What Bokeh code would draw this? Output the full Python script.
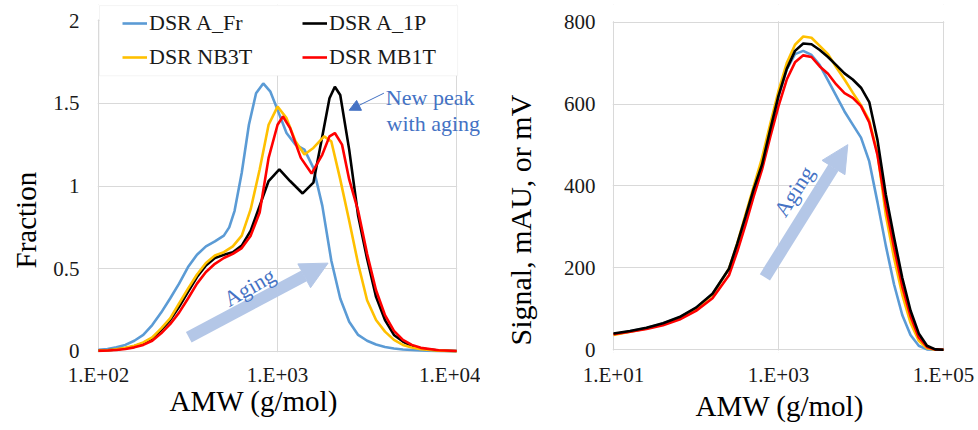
import numpy as np
from bokeh.plotting import figure
from bokeh.models import (Range1d, FixedTicker, Legend, LegendItem, Label, Arrow, NormalHead,
                          Title, BoxAnnotation)
from bokeh.layouts import row
from bokeh.embed import file_html
from bokeh.resources import INLINE

FONT = "Liberation Serif"

# ---------------- Left panel: Fraction vs AMW (log10 AMW values) ----------------
frac_logM_fr = [2.00, 2.05, 2.10, 2.15, 2.20, 2.25, 2.30, 2.35, 2.40, 2.45, 2.50, 2.55, 2.60, 2.65, 2.70,
                2.73, 2.76, 2.80, 2.84, 2.88, 2.92, 2.96, 3.00, 3.05, 3.10, 3.15, 3.20, 3.25, 3.30, 3.35,
                3.40, 3.45, 3.50, 3.55, 3.60, 3.65, 3.70, 3.80, 3.90, 4.00]
frac_fr = [0.010, 0.015, 0.025, 0.040, 0.065, 0.10, 0.16, 0.235, 0.32, 0.41, 0.51, 0.585, 0.635, 0.665, 0.70,
           0.75, 0.85, 1.08, 1.37, 1.56, 1.62, 1.57, 1.46, 1.32, 1.25, 1.22, 1.11, 0.88, 0.55, 0.32,
           0.18, 0.10, 0.065, 0.042, 0.027, 0.018, 0.012, 0.006, 0.002, 0.0]

frac_logM_1p = [2.00, 2.05, 2.10, 2.15, 2.20, 2.25, 2.30, 2.35, 2.40, 2.45, 2.50, 2.55, 2.60, 2.65, 2.70,
                2.75, 2.80, 2.85, 2.90, 2.95, 3.01, 3.07, 3.14, 3.20, 3.25, 3.29, 3.32, 3.35, 3.40, 3.45,
                3.50, 3.55, 3.60, 3.65, 3.70, 3.75, 3.80, 3.90, 4.00]
frac_1p = [0.005, 0.008, 0.012, 0.02, 0.032, 0.05, 0.08, 0.13, 0.19, 0.27, 0.36, 0.45, 0.52, 0.565, 0.585,
           0.60, 0.64, 0.73, 0.88, 1.03, 1.10, 1.03, 0.955, 1.02, 1.30, 1.53, 1.60, 1.55, 1.22, 0.82,
           0.56, 0.33, 0.19, 0.10, 0.06, 0.033, 0.018, 0.006, 0.002]

frac_logM_nb = [2.00, 2.05, 2.10, 2.15, 2.20, 2.25, 2.30, 2.35, 2.40, 2.45, 2.50, 2.55, 2.60, 2.65, 2.70,
                2.75, 2.80, 2.85, 2.90, 2.95, 3.00, 3.05, 3.10, 3.15, 3.20, 3.26, 3.30, 3.35, 3.40, 3.45,
                3.50, 3.55, 3.60, 3.65, 3.70, 3.75, 3.80, 3.90, 4.00]
frac_nb = [0.005, 0.008, 0.013, 0.022, 0.035, 0.055, 0.085, 0.14, 0.20, 0.29, 0.38, 0.465, 0.535, 0.58, 0.60,
           0.635, 0.70, 0.86, 1.10, 1.37, 1.48, 1.41, 1.27, 1.19, 1.23, 1.30, 1.27, 1.04, 0.79, 0.53,
           0.31, 0.19, 0.12, 0.07, 0.04, 0.024, 0.014, 0.005, 0.001]

frac_logM_mb = [2.00, 2.05, 2.10, 2.15, 2.20, 2.25, 2.30, 2.35, 2.40, 2.45, 2.50, 2.55, 2.60, 2.65, 2.70,
                2.75, 2.80, 2.85, 2.90, 2.95, 3.00, 3.03, 3.07, 3.13, 3.19, 3.25, 3.29, 3.32, 3.36, 3.40,
                3.45, 3.50, 3.55, 3.60, 3.65, 3.70, 3.75, 3.80, 3.90, 4.00]
frac_mb = [0.004, 0.006, 0.009, 0.015, 0.025, 0.04, 0.065, 0.11, 0.165, 0.235, 0.32, 0.41, 0.48, 0.53, 0.565,
           0.59, 0.625, 0.70, 0.84, 1.17, 1.37, 1.42, 1.35, 1.17, 1.075, 1.19, 1.30, 1.32, 1.25, 1.04,
           0.85, 0.59, 0.37, 0.22, 0.125, 0.07, 0.04, 0.022, 0.008, 0.003]

left_x_ticks = [100, 1000, 10000]
left_x_labels = ["1.E+02", "1.E+03", "1.E+04"]
left_y_ticks = [0, 0.5, 1, 1.5, 2]
left_y_labels = ["0", "0.5", "1", "1.5", "2"]

# ---------------- Right panel: Signal vs AMW (log10 AMW values) ----------------
sig_logM = [1.0, 1.2, 1.4, 1.6, 1.8, 2.0, 2.2, 2.4, 2.5, 2.6, 2.7, 2.8, 2.9, 3.0, 3.1, 3.2, 3.3, 3.4,
            3.5, 3.6, 3.7, 3.8, 3.9, 4.0, 4.1, 4.2, 4.3, 4.4, 4.5, 4.6, 4.7, 4.8, 4.9, 5.0]
sig_fr = [38, 45, 53, 64, 79, 102, 136, 197, 255, 322, 392, 452, 538, 620, 685, 722, 730, 720,
          695, 658, 620, 582, 550, 518, 460, 360, 255, 160, 85, 36, 10, 1, 0, 0]
sig_1p = [40, 46, 54, 65, 80, 103, 137, 198, 259, 325, 393, 452, 538, 620, 686, 730, 748, 746,
          732, 715, 695, 675, 660, 640, 605, 512, 380, 275, 176, 96, 40, 10, 1, 0]
sig_nb = [36, 44, 52, 63, 78, 101, 135, 198, 260, 330, 400, 468, 552, 632, 700, 745, 765, 762,
          742, 722, 690, 660, 628, 597, 560, 480, 330, 225, 135, 66, 22, 4, 0, 0]
sig_mb = [38, 44, 51, 60, 74, 95, 126, 182, 240, 305, 375, 440, 520, 595, 660, 702, 719, 715,
          692, 674, 648, 627, 615, 595, 555, 475, 352, 250, 155, 82, 30, 7, 1, 0]

right_x_ticks = [10, 1000, 100000]
right_x_labels = ["1.E+01", "1.E+03", "1.E+05"]
right_y_ticks = [0, 200, 400, 600, 800]
right_y_labels = ["0", "200", "400", "600", "800"]

series_names = ["DSR A_Fr", "DSR A_1P", "DSR NB3T", "DSR MB1T"]
colors = ["#5B9BD5", "#000000", "#FFC000", "#FF0000"]

GRID = "#D9D9D9"
TEXT_BLUE = "#4472C4"
ARROW_BLUE = "#B4C7E7"


def style(p, xt, xl, yt, yl, xstand, ystand):
    p.xaxis.ticker = FixedTicker(ticks=xt)
    p.yaxis.ticker = FixedTicker(ticks=yt)
    p.xgrid.ticker = FixedTicker(ticks=xt)
    p.ygrid.ticker = FixedTicker(ticks=yt)
    p.xaxis.major_label_overrides = dict(zip(xt, xl))
    p.yaxis.major_label_overrides = dict(zip(yt, yl))
    for ax in (p.xaxis[0], p.yaxis[0]):
        ax.axis_line_color = None
        ax.major_tick_line_color = None
        ax.minor_tick_line_color = None
        ax.major_tick_out = 0
        ax.major_tick_in = 0
        ax.minor_tick_out = 0
        ax.minor_tick_in = 0
        ax.major_label_text_font = FONT
        ax.major_label_text_font_size = "21px"
        ax.major_label_text_color = "#1a1a1a"
    p.xaxis.major_label_standoff = xstand
    p.yaxis.major_label_standoff = ystand
    p.xgrid.grid_line_color = GRID
    p.ygrid.grid_line_color = GRID
    p.xgrid.grid_line_width = 1
    p.ygrid.grid_line_width = 1
    p.xgrid.level = "image"
    p.ygrid.level = "image"
    p.outline_line_color = None
    p.background_fill_color = "white"
    p.border_fill_color = "white"


def axis_title(p, text, place, offset, standoff, size="29px", valign="bottom"):
    p.add_layout(Title(text=text, align="left", offset=offset, standoff=standoff,
                       vertical_align=valign,
                       text_font=FONT, text_font_size=size, text_font_style="normal",
                       text_color="black"), place)


def blank(p, **kw):
    p.add_layout(BoxAnnotation(fill_color="white", fill_alpha=1, line_color=None,
                               level="underlay", **kw))


# ---------------- Left figure ----------------
# The frame reaches above y=2 and right of 1.E+04 so the legend and the note fit in it;
# those strips are blanked out.
p1 = figure(width=480, height=430, x_axis_type="log",
            x_range=Range1d(10 ** 1.99444, 10 ** 4.13333), y_range=Range1d(-0.00605, 2.0968),
            output_backend="svg", toolbar_location=None,
            min_border_left=95, min_border_right=0, min_border_top=4, min_border_bottom=78)
style(p1, left_x_ticks, left_x_labels, left_y_ticks, left_y_labels, 10, 18)
blank(p1, left=10 ** 4.003)
blank(p1, bottom=2.006)
blank(p1, top=-0.0045)
# legend frame
p1.add_layout(BoxAnnotation(left=10 ** 2.0056, right=10 ** 4.0056, bottom=1.666, top=2.09,
                            fill_color="white", fill_alpha=1, line_color=GRID, line_width=1,
                            level="underlay"))

p1.add_layout(Arrow(x_start=10 ** 2.504, y_start=0.0865, x_end=10 ** 3.282, y_end=0.534,
                    line_color=ARROW_BLUE, line_width=12,
                    end=NormalHead(size=27, fill_color=ARROW_BLUE, line_color=ARROW_BLUE),
                    level="underlay"))

left_data = [(frac_logM_fr, frac_fr), (frac_logM_1p, frac_1p), (frac_logM_nb, frac_nb), (frac_logM_mb, frac_mb)]
rends = []
for (lx, fy), c in zip(left_data, colors):
    r = p1.line(10 ** np.array(lx), fy, line_color=c, line_width=2.6)
    rends.append(r)

legend = Legend(items=[LegendItem(label=n, renderers=[r]) for n, r in zip(series_names, rends)],
                orientation="horizontal", ncols=2, location=(25, 282),
                label_text_font=FONT, label_text_font_size="22px", label_text_color="#1a1a1a",
                glyph_width=25, glyph_height=20, label_standoff=2, label_width=145, label_height=20,
                spacing=8, padding=0, margin=0,
                border_line_color=None, background_fill_alpha=0)
p1.add_layout(legend)

p1.add_layout(Label(x=10 ** 2.843, y=0.389, text="Aging", angle=0.52, text_align="center",
                    text_baseline="middle", text_font=FONT, text_font_size="22px", text_color=TEXT_BLUE))
p1.add_layout(Label(x=10 ** 3.852, y=1.537, text="New peak", text_align="center",
                    text_baseline="alphabetic", text_font=FONT, text_font_size="22px", text_color=TEXT_BLUE))
p1.add_layout(Label(x=10 ** 3.87, y=1.379, text="with aging", text_align="center",
                    text_baseline="alphabetic", text_font=FONT, text_font_size="22px", text_color=TEXT_BLUE))
p1.add_layout(Arrow(x_start=10 ** 3.594, y_start=1.561, x_end=10 ** 3.40, y_end=1.458,
                    line_color=TEXT_BLUE, line_width=1,
                    end=NormalHead(size=11, fill_color=TEXT_BLUE, line_color=TEXT_BLUE)))

axis_title(p1, "Fraction", "left", 84, 16, valign="middle")
axis_title(p1, "AMW (g/mol)", "below", 72, -10, valign="top")

# ---------------- Right figure ----------------
p2 = figure(width=498, height=430, x_axis_type="log",
            x_range=Range1d(10 ** 0.98795, 10 ** 5.01205), y_range=Range1d(-6.59, 843.2),
            output_backend="svg", toolbar_location=None,
            min_border_left=130, min_border_right=34, min_border_top=4, min_border_bottom=78)
style(p2, right_x_ticks, right_x_labels, right_y_ticks, right_y_labels, 10, 17)
blank(p2, bottom=802)
blank(p2, top=-1.5)

p2.add_layout(Arrow(x_start=10 ** 2.835, y_start=177, x_end=10 ** 3.84, y_end=501,
                    line_color=ARROW_BLUE, line_width=12,
                    end=NormalHead(size=27, fill_color=ARROW_BLUE, line_color=ARROW_BLUE),
                    level="underlay"))

xs = 10 ** np.array(sig_logM)
right_series = [(sig_fr, colors[0]), (sig_nb, colors[2]), (sig_mb, colors[3]), (sig_1p, colors[1])]
for sy, c in right_series:
    p2.line(xs, sy, line_color=c, line_width=2.6)

p2.add_layout(Label(x=10 ** 3.187, y=387, text="Aging", angle=1.0, text_align="center",
                    text_baseline="middle", text_font=FONT, text_font_size="22px", text_color=TEXT_BLUE))

axis_title(p2, "Signal,  mAU, or mV", "left", 7, 45, size="30px", valign="middle")
axis_title(p2, "AMW (g/mol)", "below", 83, 0, valign="top")

layout = row(p1, p2)
open("out.html", "w").write(file_html(layout, INLINE))
